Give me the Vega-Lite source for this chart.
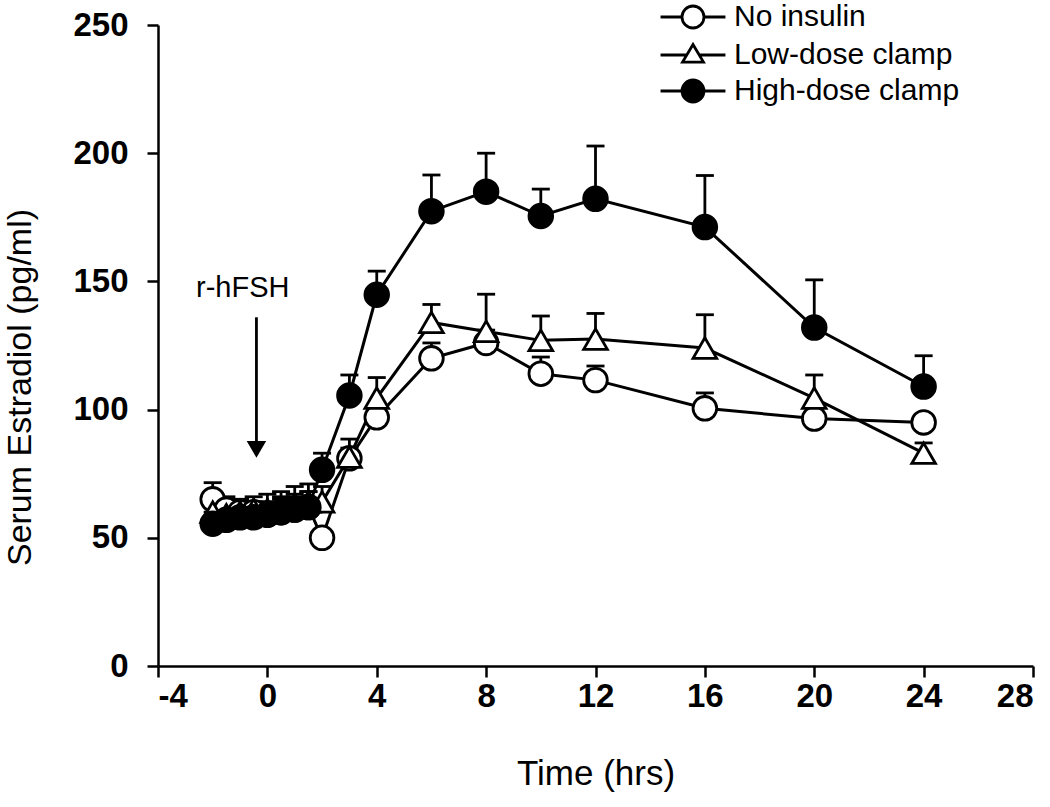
{
  "$schema": "https://vega.github.io/schema/vega-lite/v6.json",
  "autosize": "none",
  "width": 875,
  "height": 641,
  "padding": {"left": 158, "top": 25, "right": 17, "bottom": 141},
  "background": "white",
  "config": {
    "view": {"stroke": null},
    "font": "Liberation Sans",
    "axis": {
      "grid": false,
      "domainColor": "black",
      "domainWidth": 2.5,
      "tickColor": "black",
      "tickWidth": 2.5,
      "tickSize": 11,
      "labelFont": "Liberation Sans",
      "labelFontSize": 33,
      "labelFontWeight": "bold",
      "labelColor": "black",
      "titleFont": "Liberation Sans",
      "titleFontSize": 35,
      "titleFontWeight": "normal",
      "titleColor": "black"
    }
  },
  "datasets": {
    "series": [
      {"grp": "No insulin", "t": -2, "v": 65, "hi": 71.5},
      {"grp": "No insulin", "t": -1.5, "v": 61, "hi": 66},
      {"grp": "No insulin", "t": -1, "v": 60, "hi": 65},
      {"grp": "No insulin", "t": -0.5, "v": 60, "hi": 64},
      {"grp": "No insulin", "t": 0, "v": 59, "hi": 64},
      {"grp": "No insulin", "t": 0.5, "v": 60, "hi": 65},
      {"grp": "No insulin", "t": 1, "v": 61, "hi": 66},
      {"grp": "No insulin", "t": 1.5, "v": 62, "hi": 68},
      {"grp": "No insulin", "t": 2, "v": 50, "hi": 53},
      {"grp": "No insulin", "t": 3, "v": 81, "hi": 85},
      {"grp": "No insulin", "t": 4, "v": 97, "hi": 101},
      {"grp": "No insulin", "t": 6, "v": 120, "hi": 126},
      {"grp": "No insulin", "t": 8, "v": 126, "hi": 131},
      {"grp": "No insulin", "t": 10, "v": 114, "hi": 120.5},
      {"grp": "No insulin", "t": 12, "v": 111.5, "hi": 117},
      {"grp": "No insulin", "t": 16, "v": 100.5, "hi": 106.5},
      {"grp": "No insulin", "t": 20, "v": 96.5, "hi": 100},
      {"grp": "No insulin", "t": 24, "v": 95, "hi": 98},
      {"grp": "Low-dose clamp", "t": -2, "v": 60, "hi": 67},
      {"grp": "Low-dose clamp", "t": -1.5, "v": 59, "hi": 64},
      {"grp": "Low-dose clamp", "t": -1, "v": 60, "hi": 65},
      {"grp": "Low-dose clamp", "t": -0.5, "v": 61, "hi": 66},
      {"grp": "Low-dose clamp", "t": 0, "v": 61, "hi": 67},
      {"grp": "Low-dose clamp", "t": 0.5, "v": 62, "hi": 68},
      {"grp": "Low-dose clamp", "t": 1, "v": 63, "hi": 70},
      {"grp": "Low-dose clamp", "t": 1.5, "v": 64, "hi": 71},
      {"grp": "Low-dose clamp", "t": 2, "v": 64, "hi": 70},
      {"grp": "Low-dose clamp", "t": 3, "v": 81.5, "hi": 88.5},
      {"grp": "Low-dose clamp", "t": 4, "v": 104.5, "hi": 112.5},
      {"grp": "Low-dose clamp", "t": 6, "v": 134, "hi": 141},
      {"grp": "Low-dose clamp", "t": 8, "v": 130.5, "hi": 145},
      {"grp": "Low-dose clamp", "t": 10, "v": 127, "hi": 136.5},
      {"grp": "Low-dose clamp", "t": 12, "v": 127.5, "hi": 137.5},
      {"grp": "Low-dose clamp", "t": 16, "v": 124, "hi": 137},
      {"grp": "Low-dose clamp", "t": 20, "v": 104.5, "hi": 113.5},
      {"grp": "Low-dose clamp", "t": 24, "v": 83, "hi": 87},
      {"grp": "High-dose clamp", "t": -2, "v": 55.5, "hi": 60},
      {"grp": "High-dose clamp", "t": -1.5, "v": 57, "hi": 63},
      {"grp": "High-dose clamp", "t": -1, "v": 58, "hi": 64},
      {"grp": "High-dose clamp", "t": -0.5, "v": 58, "hi": 63},
      {"grp": "High-dose clamp", "t": 0, "v": 59, "hi": 64},
      {"grp": "High-dose clamp", "t": 0.5, "v": 60, "hi": 66},
      {"grp": "High-dose clamp", "t": 1, "v": 61, "hi": 67},
      {"grp": "High-dose clamp", "t": 1.5, "v": 62, "hi": 68},
      {"grp": "High-dose clamp", "t": 2, "v": 76.5, "hi": 83},
      {"grp": "High-dose clamp", "t": 3, "v": 105.5, "hi": 113.5},
      {"grp": "High-dose clamp", "t": 4, "v": 144.8, "hi": 154},
      {"grp": "High-dose clamp", "t": 6, "v": 177.4, "hi": 191.5},
      {"grp": "High-dose clamp", "t": 8, "v": 185, "hi": 200},
      {"grp": "High-dose clamp", "t": 10, "v": 175.5, "hi": 186},
      {"grp": "High-dose clamp", "t": 12, "v": 182.2, "hi": 202.8},
      {"grp": "High-dose clamp", "t": 16, "v": 171.2, "hi": 191.3},
      {"grp": "High-dose clamp", "t": 20, "v": 132, "hi": 150.6},
      {"grp": "High-dose clamp", "t": 24, "v": 109, "hi": 121}
    ],
    "note": [{"t": -0.9, "v": 147.5, "label": "r-hFSH", "top": 136, "bottom": 86, "tip": 84.5, "ta": -0.4}]
  },
  "resolve": {
    "scale": {"shape": "independent", "fill": "independent", "stroke": "independent"},
    "legend": {"shape": "independent", "fill": "independent", "stroke": "independent"}
  },
  "layer": [
    {
      "data": {"name": "series"},
      "mark": {"type": "rule", "color": "black", "strokeWidth": 2.8},
      "encoding": {
        "x": {"field": "t", "type": "quantitative", "scale": {"domain": [-4, 28], "nice": false, "zero": false},
          "axis": {"values": [-4, 0, 4, 8, 12, 16, 20, 24, 28], "labelExpr": "'' + datum.value", "title": "Time (hrs)", "labelPadding": 3, "titlePadding": 43}},
        "y": {"field": "v", "type": "quantitative", "scale": {"domain": [0, 250], "nice": false},
          "axis": {"values": [0, 50, 100, 150, 200, 250], "title": "Serum Estradiol (pg/ml)", "titleFontSize": 34, "labelPadding": 19, "titlePadding": 35, "titleY": 362}},
        "y2": {"field": "hi"}
      }
    },
    {
      "data": {"name": "series"},
      "mark": {"type": "tick", "orient": "horizontal", "color": "black", "thickness": 2.8, "size": 18, "opacity": 1},
      "encoding": {
        "x": {"field": "t", "type": "quantitative"},
        "y": {"field": "hi", "type": "quantitative"}
      }
    },
    {
      "data": {"name": "series"},
      "mark": {"type": "line", "color": "black", "strokeWidth": 3},
      "encoding": {
        "x": {"field": "t", "type": "quantitative"},
        "y": {"field": "v", "type": "quantitative"},
        "detail": {"field": "grp"}
      }
    },
    {
      "data": {"name": "series"},
      "mark": {"type": "point", "filled": true, "opacity": 1, "strokeWidth": 2.8, "strokeOpacity": 1, "size": 560},
      "encoding": {
        "x": {"field": "t", "type": "quantitative"},
        "y": {"field": "v", "type": "quantitative"},
        "shape": {"field": "grp", "type": "nominal", "legend": null,
          "scale": {"domain": ["No insulin", "Low-dose clamp", "High-dose clamp"], "range": ["circle", "triangle-up", "circle"]}},
        "fill": {"field": "grp", "type": "nominal", "legend": null,
          "scale": {"domain": ["No insulin", "Low-dose clamp", "High-dose clamp"], "range": ["white", "white", "black"]}},
        "stroke": {"field": "grp", "type": "nominal", "legend": null,
          "scale": {"domain": ["No insulin", "Low-dose clamp", "High-dose clamp"], "range": ["black", "black", "black"]}}
      }
    },
    {
      "data": {"name": "series"},
      "transform": [{"filter": "false"}],
      "mark": {"type": "point", "filled": true, "opacity": 1, "strokeWidth": 2.8, "strokeOpacity": 1, "size": 484},
      "encoding": {
        "x": {"field": "t", "type": "quantitative"},
        "y": {"field": "v", "type": "quantitative"},
        "shape": {"field": "grp", "type": "nominal", "title": null,
          "scale": {"domain": ["No insulin", "Low-dose clamp", "High-dose clamp"],
            "range": ["M-1,0A1,1,0,1,1,1,0A1,1,0,1,1,-1,0Z M-2.95,0L-1,0 M1,0L2.95,0", "M0,-0.95L0.95,0.65L-0.95,0.65Z M-2.95,0L-0.56,0 M0.56,0L2.95,0", "M-1,0A1,1,0,1,1,1,0A1,1,0,1,1,-1,0Z M-2.95,0L-1,0 M1,0L2.95,0"]},
          "legend": {
            "orient": "none", "legendX": 520, "legendY": -23,
            "labelFont": "Liberation Sans", "labelFontSize": 30, "labelColor": "black", "labelLimit": 500,
            "symbolSize": 484, "symbolStrokeWidth": 2.8,
            "labelOffset": 26, "rowPadding": 4
          }},
        "fill": {"field": "grp", "type": "nominal", "title": null,
          "scale": {"domain": ["No insulin", "Low-dose clamp", "High-dose clamp"], "range": ["white", "white", "black"]}},
        "stroke": {"field": "grp", "type": "nominal", "title": null,
          "scale": {"domain": ["No insulin", "Low-dose clamp", "High-dose clamp"], "range": ["black", "black", "black"]}}
      }
    },
    {
      "data": {"name": "note"},
      "mark": {"type": "text", "font": "Liberation Sans", "fontSize": 29, "color": "black", "align": "center", "baseline": "middle"},
      "encoding": {
        "x": {"field": "t", "type": "quantitative"},
        "y": {"field": "v", "type": "quantitative"},
        "text": {"field": "label"}
      }
    },
    {
      "data": {"name": "note"},
      "mark": {"type": "rule", "color": "black", "strokeWidth": 2.8},
      "encoding": {
        "x": {"field": "ta", "type": "quantitative"},
        "y": {"field": "top", "type": "quantitative"},
        "y2": {"field": "bottom"}
      }
    },
    {
      "data": {"name": "note"},
      "mark": {"type": "point", "shape": "triangle-down", "filled": true, "color": "black", "opacity": 1, "size": 380},
      "encoding": {
        "x": {"field": "ta", "type": "quantitative"},
        "y": {"field": "tip", "type": "quantitative"}
      }
    }
  ]
}
